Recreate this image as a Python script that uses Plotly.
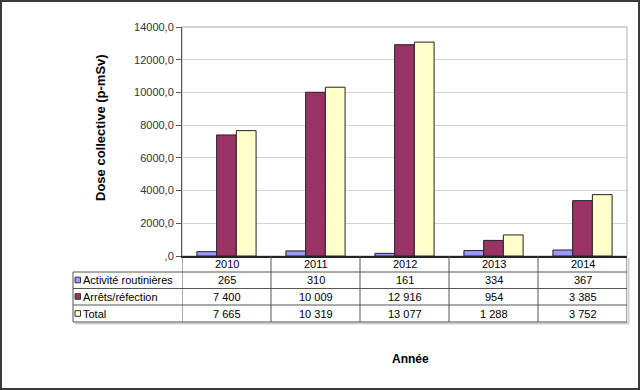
import plotly.graph_objects as go

# ---- data ----
years = ["2010", "2011", "2012", "2013", "2014"]
series_names = ["Activité routinières", "Arrêts/réfection", "Total"]
routine = [265, 310, 161, 334, 367]
arrets = [7400, 10009, 12916, 954, 3385]
total = [7665, 10319, 13077, 1288, 3752]
series_values = [routine, arrets, total]
series_colors = ["#9999FF", "#993366", "#FFFFCC"]
ytick_vals = [0, 2000, 4000, 6000, 8000, 10000, 12000, 14000]
ytick_text = [",0", "2000,0", "4000,0", "6000,0", "8000,0", "10000,0", "12000,0", "14000,0"]

FONT = "Arial, Liberation Sans, sans-serif"
W, H = 640, 390
ML, MR, MT, MB = 182, 13, 27, 134
PW = W - ML - MR
PH = H - MT - MB


def px(x):  # pixel x -> paper
    return (x - ML) / PW


def py(y):  # pixel y -> paper
    return (H - MB - y) / PH


fig = go.Figure()
for name, vals, col in zip(series_names, series_values, series_colors):
    fig.add_trace(go.Bar(
        x=years, y=vals, name=name,
        marker=dict(color=col, line=dict(color="#222222", width=1)),
        showlegend=False,
    ))

shapes = []
# outer frame
shapes.append(dict(type="rect", xref="paper", yref="paper",
                   x0=px(1), x1=px(639), y0=py(389), y1=py(1),
                   line=dict(color="#3a3a3a", width=2), layer="below"))
# plot area border
shapes.append(dict(type="rect", xref="paper", yref="paper",
                   x0=0, x1=1, y0=0, y1=1,
                   line=dict(color="#c8c8c8", width=1.5), layer="below"))

# table geometry (pixel rows)
row_lines = [272, 288.5, 305, 322]
row_centers = [280, 296.5, 313.5]
header_center = 264
left_px = 73
grid_col = "#555555"
shadow_col = "#cfcfcf"

# table shadow
shapes.append(dict(type="line", xref="paper", yref="paper",
                   x0=px(left_px + 2), x1=px(629), y0=py(323.5), y1=py(323.5),
                   line=dict(color=shadow_col, width=2)))
shapes.append(dict(type="line", xref="paper", yref="paper",
                   x0=px(628.5), x1=px(628.5), y0=py(258), y1=py(323.5),
                   line=dict(color=shadow_col, width=2)))

for yl in row_lines:
    shapes.append(dict(type="line", xref="paper", yref="paper",
                       x0=px(left_px), x1=1, y0=py(yl), y1=py(yl),
                       line=dict(color=grid_col, width=1)))
shapes.append(dict(type="line", xref="paper", yref="paper",
                   x0=px(left_px), x1=px(left_px), y0=py(row_lines[0]), y1=py(row_lines[-1]),
                   line=dict(color=grid_col, width=1)))
for k in range(len(years) + 1):
    shapes.append(dict(type="line", xref="x", yref="paper",
                       x0=k - 0.5, x1=k - 0.5, y0=0, y1=py(row_lines[-1]),
                       line=dict(color=grid_col, width=1)))

annotations = []
# header years
for i, yr in enumerate(years):
    annotations.append(dict(x=i, y=py(header_center), xref="x", yref="paper",
                            text=yr, showarrow=False, xanchor="center", yanchor="middle",
                            font=dict(family=FONT, size=11, color="#000")))
# rows
for r, (name, vals, col) in enumerate(zip(series_names, series_values, series_colors)):
    yc = py(row_centers[r])
    shapes.append(dict(type="rect", xref="paper", yref="paper",
                       x0=px(75), x1=px(80.5), y0=py(row_centers[r] + 2.8), y1=py(row_centers[r] - 2.8),
                       fillcolor=col, line=dict(color="#333333", width=1)))
    annotations.append(dict(x=px(81), y=yc, xref="paper", yref="paper",
                            text=name, showarrow=False, xanchor="left", yanchor="middle",
                            font=dict(family=FONT, size=11, color="#000")))
    for i, v in enumerate(vals):
        annotations.append(dict(x=i, y=yc, xref="x", yref="paper",
                                text=f"{v:,}".replace(",", " "), showarrow=False,
                                xanchor="center", yanchor="middle",
                                font=dict(family=FONT, size=11, color="#000")))

# axis titles
annotations.append(dict(x=px(100), y=py(128), xref="paper", yref="paper",
                        text="<b>Dose collective (p-mSv)</b>", textangle=-90, showarrow=False,
                        xanchor="center", yanchor="middle",
                        font=dict(family=FONT, size=13, color="#000")))
annotations.append(dict(x=px(410), y=py(359), xref="paper", yref="paper",
                        text="<b>Année</b>", showarrow=False,
                        xanchor="center", yanchor="middle",
                        font=dict(family=FONT, size=12, color="#000")))

fig.update_layout(
    width=W, height=H,
    margin=dict(l=ML, r=MR, t=MT, b=MB, pad=0),
    paper_bgcolor="#ffffff", plot_bgcolor="#ffffff",
    barmode="group", bargap=0.335, bargroupgap=0,
    shapes=shapes, annotations=annotations,
    font=dict(family=FONT),
)
fig.update_xaxes(type="category", range=[-0.5, 4.5], showticklabels=False,
                 showgrid=False, showline=True, linecolor="#222222", linewidth=1.5,
                 ticks="", zeroline=False)
fig.update_yaxes(range=[0, 14000], tickvals=ytick_vals, ticktext=ytick_text,
                 showgrid=True, gridcolor="#d4d4d4", gridwidth=1,
                 showline=True, linecolor="#555555", linewidth=1,
                 ticks="outside", ticklen=5, tickcolor="#555555",
                 tickfont=dict(family=FONT, size=11, color="#333333"),
                 zeroline=False)

fig.write_html("out.html", config={"displayModeBar": False},
               post_script="document.body.style.margin='0';document.body.style.overflow='hidden';")
